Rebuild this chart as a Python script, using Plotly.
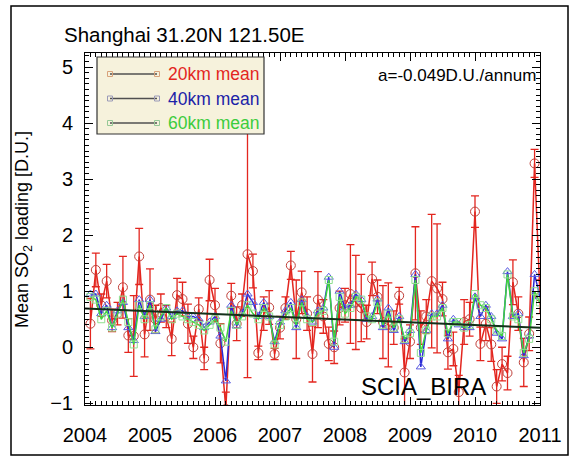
import plotly.graph_objects as go

# ---------------- data ----------------
start_year = 2004
months = list(range(84))  # monthly means, 2004-01 .. 2010-12

mean_20km = [0.42, 1.38, 0.75, 1.18, 0.48, 0.60, 1.07, 0.21, 0.20, 1.62,
             0.23, 0.85, 0.50, 0.70, 0.55, 0.15, 0.93, 0.86, 0.42, 0.00,
             0.68, -0.20, 1.20, 0.75, 0.07, -1.10, 0.92, 0.42, 0.75, 1.66,
             1.36, -0.10, 0.60, 0.71, -0.12, 0.35, 0.70, 1.46, 0.50, 0.98,
             0.60, -0.12, 0.85, 0.55, 0.06, 0.00, 0.70, 0.75, 0.95, 0.80,
             0.70, 0.45, 1.22, 0.90, 0.45, 0.40, 0.35, 0.92, -0.45, 0.10,
             1.32, 0.35, 0.55, 1.18, 1.05, 0.86, -0.09, -0.03, -0.80, 0.45,
             0.50, 2.42, 0.06, 0.42, 0.05, -0.70, -0.30, -0.46, 1.16, 0.60,
             -0.27, 0.24, 3.28, 0.90]

err_20km = [0.45, 0.30, 0.20, 0.30, 0.20, 0.20, 0.55, 0.30, 0.72, 0.50,
            0.40, 0.55, 0.25, 0.25, 0.20, 0.30, 0.30, 0.30, 0.35, 0.20,
            0.20, 0.20, 0.37, 0.30, 0.35, 0.30, 0.22, 0.30, 0.20, 2.20,
            0.30, 0.12, 0.30, 0.30, 0.10, 0.20, 0.20, 0.25, 0.70, 0.38,
            0.30, 0.50, 0.50, 0.30, 0.30, 0.29, 0.30, 0.30, 0.88, 0.84,
            0.60, 0.30, 0.30, 0.30, 0.65, 0.75, 0.30, 0.15, 0.60, 0.30,
            0.83, 0.30, 0.30, 1.19, 1.15, 0.30, 0.30, 0.30, 0.30, 0.40,
            0.30, 0.28, 0.30, 0.30, 0.30, 0.30, 0.30, 0.30, 0.40, 0.30,
            0.43, 0.30, 0.25, 0.30]

mean_40km = [0.95, 0.95, 0.60, 0.75, 0.35, 0.65, 0.80, 0.35, 0.12, 0.85,
             0.55, 0.85, 0.28, 0.50, 0.70, 0.55, 0.65, 0.65, 0.55, 0.55,
             0.50, 0.35, 0.45, 0.55, 0.20, -0.60, 0.75, 0.38, 0.60, 0.95,
             0.80, 0.55, 0.80, 0.55, 0.10, 0.45, 0.65, 0.80, 0.35, 0.85,
             0.55, 0.45, 0.65, 0.70, 1.25, 0.00, 1.00, 0.70, 0.75, 0.95,
             0.85, 0.50, 0.55, 0.86, 0.35, 0.70, 0.30, 0.55, 0.10, 0.30,
             1.30, -0.35, 0.30, 0.60, 0.60, 0.75, 0.15, 0.50, 0.40, 0.35,
             0.35, 0.90, 0.55, 0.75, 0.55, 0.25, 0.15, 1.35, 0.55, 0.60,
             -0.15, 0.20, 1.30, 0.90]

mean_60km = [0.90, 0.85, 0.50, 0.65, 0.35, 0.60, 0.85, 0.45, 0.05, 0.75,
             0.50, 0.75, 0.32, 0.55, 0.70, 0.50, 0.60, 0.55, 0.50, 0.45,
             0.40, 0.30, 0.40, 0.50, 0.35, 0.10, 0.65, 0.40, 0.55, 0.75,
             0.60, 0.50, 0.70, 0.55, 0.05, 0.40, 0.55, 0.70, 0.40, 0.80,
             0.50, 0.45, 0.60, 0.65, 1.20, 0.10, 0.90, 0.60, 0.70, 0.90,
             0.85, 0.55, 0.50, 0.80, 0.40, 0.60, 0.35, 0.50, 0.15, 0.25,
             1.20, -0.10, 0.30, 0.55, 0.55, 0.70, 0.25, 0.45, 0.45, 0.35,
             0.40, 0.95, 0.75, 0.70, 0.50, 0.30, 0.20, 1.30, 0.55, 0.50,
             -0.10, 0.15, 1.00, 0.80]

trend_at_start = 0.69      # D.U. at 2004.0
trend_slope = -0.049       # D.U./annum
trend_years = [2004, 2011]

year_ticks = [2004, 2005, 2006, 2007, 2008, 2009, 2010, 2011]
legend_labels = ["20km mean", "40km mean", "60km mean"]

# ---------------- styling ----------------
RED = "#e3261f"
BLUE = "#2a2ad6"
GREEN = "#3fd43f"
FONT = "Liberation Sans, Arial, sans-serif"

W, H = 578, 464
L, R, T, B = 85, 38, 53, 59
PW, PH = W - L - R, H - T - B


def px(xp):
    return (xp - L) / PW


def py(yp):
    return (H - B - yp) / PH


x = [start_year + (m + 1) / 12 for m in months]
trend_vals = [trend_at_start + trend_slope * (yr - start_year) for yr in trend_years]

fig = go.Figure()
fig.add_trace(go.Scatter(
    x=x, y=mean_20km, mode="lines+markers",
    line=dict(color=RED, width=1.5),
    marker=dict(symbol="circle-open", size=9, color="#c0403a", line=dict(width=1)),
    error_y=dict(type="data", array=err_20km, color=RED, thickness=1.3, width=4),
    showlegend=False))
fig.add_trace(go.Scatter(
    x=x, y=mean_40km, mode="lines+markers",
    line=dict(color=BLUE, width=1.5),
    marker=dict(symbol="triangle-up-open", size=8, color="#5a5ae0", line=dict(width=1)),
    showlegend=False))
fig.add_trace(go.Scatter(
    x=x, y=mean_60km, mode="lines+markers",
    line=dict(color=GREEN, width=1.5),
    marker=dict(symbol="square-open", size=7, color="#8fe08f", line=dict(width=1)),
    showlegend=False))
fig.add_trace(go.Scatter(
    x=trend_years, y=trend_vals, mode="lines",
    line=dict(color="#14301a", width=2), showlegend=False))

axis_common = dict(
    showline=True, linecolor="black", linewidth=1, mirror="allticks",
    ticks="inside", ticklen=8, tickwidth=1, tickcolor="black",
    showgrid=False, zeroline=False,
    tickfont=dict(size=20, color="black", family=FONT),
)
fig.update_xaxes(range=[2004, 2011], tickvals=year_ticks, tickformat="d",
                 ticklabelstandoff=12,
                 minor=dict(dtick=1 / 12, tick0=2004, ticks="inside", ticklen=4,
                            tickcolor="black", showgrid=False),
                 **axis_common)
fig.update_yaxes(range=[-1.03, 5.25], dtick=1, tick0=0,
                 ticklabelstandoff=7,
                 minor=dict(dtick=0.1, tick0=0, ticks="inside", ticklen=4,
                            tickcolor="black", showgrid=False),
                 **axis_common)

shapes = []
# outer frame
shapes.append(dict(type="rect", xref="paper", yref="paper",
                   x0=px(11), x1=px(568), y0=py(455), y1=py(6),
                   line=dict(color="black", width=1.5), layer="above"))
# legend box
shapes.append(dict(type="rect", xref="paper", yref="paper",
                   x0=px(97), x1=px(264), y0=py(134), y1=py(57),
                   fillcolor="#f6f2dc", line=dict(color="#333333", width=1.2), layer="above"))
sym_colors = ["#d8a27a", "#9a9ab8", "#96c896"]
text_colors = [RED, "#1c22a8", "#3ccc3c"]
rows = [74, 98.5, 123]
for yy, sc in zip(rows, sym_colors):
    shapes.append(dict(type="line", xref="paper", yref="paper",
                       x0=px(110), x1=px(157), y0=py(yy), y1=py(yy),
                       line=dict(color="#505050", width=1.3), layer="above"))
    for cx in (110, 157):
        shapes.append(dict(type="rect", xref="paper", yref="paper",
                           x0=px(cx - 2.5), x1=px(cx + 2.5), y0=py(yy + 2.5), y1=py(yy - 2.5),
                           line=dict(color=sc, width=1), fillcolor="rgba(0,0,0,0)", layer="above"))

annotations = []
for yy, lab, tc in zip(rows, legend_labels, text_colors):
    annotations.append(dict(text=lab, xref="paper", yref="paper", x=px(166), y=py(yy),
                            xanchor="left", yanchor="middle", showarrow=False,
                            font=dict(size=17.5, color=tc, family=FONT)))
annotations.append(dict(text="Shanghai 31.20N 121.50E", xref="paper", yref="paper",
                        x=px(62), y=py(34), xanchor="left", yanchor="middle", showarrow=False,
                        font=dict(size=20.5, color="black", family=FONT)))
annotations.append(dict(text="a=-0.049D.U./annum", xref="paper", yref="paper",
                        x=px(538), y=py(75), xanchor="right", yanchor="middle", showarrow=False,
                        font=dict(size=17, color="black", family=FONT)))
annotations.append(dict(text="SCIA_BIRA", xref="paper", yref="paper",
                        x=px(488), y=py(386), xanchor="right", yanchor="middle", showarrow=False,
                        font=dict(size=24, color="black", family=FONT)))
annotations.append(dict(text="Mean SO<sub>2</sub> loading [D.U.]", xref="paper", yref="paper",
                        x=px(23), y=py(230), xanchor="center", yanchor="middle", showarrow=False,
                        textangle=-90, font=dict(size=18, color="black", family=FONT)))

fig.update_layout(
    width=W, height=H,
    margin=dict(l=L, r=R, t=T, b=B),
    paper_bgcolor="white", plot_bgcolor="white",
    font=dict(family=FONT, color="black"),
    shapes=shapes, annotations=annotations,
)

fig.write_html("out.html",
               config={"displayModeBar": False, "staticPlot": True},
               post_script="document.body.style.margin='0px';document.body.style.padding='0px';")
